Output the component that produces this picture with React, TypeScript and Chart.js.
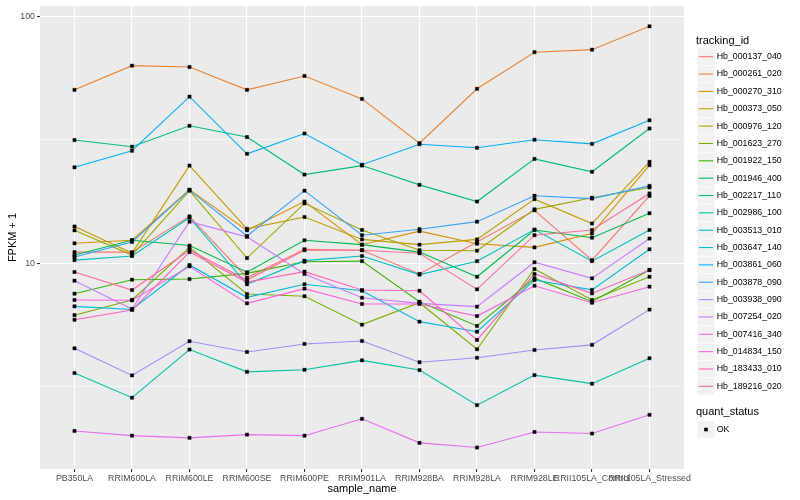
import React, { useEffect, useRef } from 'react';
import { Chart, registerables } from 'chart.js';

Chart.register(...registerables);

const FONT = '"Liberation Sans", Arial, Helvetica, sans-serif';

const categories = [
  'PB350LA', 'RRIM600LA', 'RRIM600LE', 'RRIM600SE', 'RRIM600PE', 'RRIM901LA',
  'RRIM928BA', 'RRIM928LA', 'RRIM928LE', 'RRII105LA_Control', 'RRII105LA_Stressed',
];

const trackingIds = [
  'Hb_000137_040', 'Hb_000261_020', 'Hb_000270_310', 'Hb_000373_050', 'Hb_000976_120',
  'Hb_001623_270', 'Hb_001922_150', 'Hb_001946_400', 'Hb_002217_110', 'Hb_002986_100',
  'Hb_003513_010', 'Hb_003647_140', 'Hb_003861_060', 'Hb_003878_090', 'Hb_003938_090',
  'Hb_007254_020', 'Hb_007416_340', 'Hb_014834_150', 'Hb_183433_010', 'Hb_189216_020',
];

const seriesColors = [
  '#F8766D', '#EA8331', '#D89000', '#C09B00', '#A3A500', '#7CAE00', '#39B600', '#00BB4E',
  '#00BF7D', '#00C1A3', '#00BFC4', '#00BAE0', '#00B0F6', '#35A2FF', '#9590FF', '#C77CFF',
  '#E76BF3', '#FA62DB', '#FF62BC', '#FF6C91',
];

const hb000137_040 = [11.1, 11.1, 15.5, 8.74, 11.4, 11.3, 9.05, 12.2, 16.4, 10.3, 18.75];
const hb000261_020 = [50.5, 63.3, 62.5, 50.5, 57.5, 46.4, 30.7, 51.0, 71.8, 73.5, 91.4];
const hb000270_310 = [12.05, 12.4, 19.9, 13.6, 17.8, 11.9, 13.5, 12.0, 11.6, 13.2, 25.0];
const hb000373_050 = [14.1, 11.0, 24.9, 13.8, 15.4, 12.5, 11.9, 12.5, 18.2, 14.5, 25.8];
const hb000976_120 = [13.6, 10.8, 19.7, 10.5, 17.5, 13.65, 11.3, 11.25, 16.55, 18.45, 20.3];
const hb001623_270 = [6.16, 7.1, 11.6, 7.51, 7.35, 5.64, 6.92, 4.48, 9.48, 7.1, 8.82];
const hb001922_150 = [7.53, 8.58, 8.63, 9.1, 10.15, 10.2, 6.99, 5.57, 8.7, 6.99, 9.4];
const hb001946_400 = [10.8, 12.4, 11.8, 9.2, 12.4, 11.9, 11.1, 8.82, 13.65, 12.7, 15.95];
const hb002217_110 = [31.6, 29.7, 36.1, 32.5, 22.9, 24.9, 20.8, 17.8, 26.5, 23.5, 35.2];
const hb002986_100 = [3.59, 2.85, 4.47, 3.63, 3.7, 4.04, 3.69, 2.66, 3.52, 3.25, 4.12];
const hb003513_010 = [10.3, 10.7, 15.3, 8.22, 10.25, 10.7, 9.0, 10.2, 13.7, 10.2, 13.65];
const hb003647_140 = [6.69, 6.5, 9.84, 7.28, 8.22, 7.74, 5.8, 5.28, 8.55, 7.8, 11.4];
const hb003861_060 = [24.5, 28.6, 47.4, 27.8, 33.6, 25.1, 30.4, 29.4, 31.7, 30.5, 38.0];
const hb003878_090 = [10.6, 12.2, 19.8, 12.9, 19.7, 13.0, 13.75, 14.75, 18.8, 18.3, 20.6];
const hb003938_090 = [4.52, 3.51, 4.83, 4.37, 4.71, 4.84, 3.97, 4.14, 4.45, 4.67, 6.49];
const hb007254_020 = [8.5, 6.53, 14.75, 12.8, 9.05, 7.25, 6.88, 6.67, 10.1, 8.69, 12.6];
const hb007416_340 = [2.09, 2.0, 1.96, 2.02, 2.0, 2.34, 1.87, 1.79, 2.07, 2.04, 2.43];
const hb014834_150 = [7.1, 7.08, 9.72, 6.88, 7.89, 6.84, 6.84, 6.11, 8.11, 6.92, 8.04];
const hb183433_010 = [5.9, 6.47, 11.1, 8.39, 9.25, 7.79, 7.74, 4.89, 9.05, 7.55, 9.39];
const hb189216_020 = [9.22, 7.79, 11.3, 8.55, 11.3, 11.3, 10.98, 7.84, 13.0, 13.65, 19.2];

const seriesValues = [
  hb000137_040, hb000261_020, hb000270_310, hb000373_050, hb000976_120,
  hb001623_270, hb001922_150, hb001946_400, hb002217_110, hb002986_100,
  hb003513_010, hb003647_140, hb003861_060, hb003878_090, hb003938_090,
  hb007254_020, hb007416_340, hb014834_150, hb183433_010, hb189216_020,
];

const yMajorTicks = [10, 100];
const yMinorTicks = [3.1623, 31.623];
const yMin = 1.465;
const yMax = 110.5;

const quantStatus = ['OK'];

const ggPlugin = {
  id: 'ggDecor',
  beforeDraw(chart: any) {
    const { ctx, chartArea: ca } = chart;
    ctx.save();
    ctx.fillStyle = '#FFFFFF';
    ctx.fillRect(0, 0, chart.width, chart.height);
    ctx.fillStyle = '#EBEBEB';
    ctx.fillRect(ca.left, ca.top, ca.right - ca.left, ca.bottom - ca.top);
    ctx.restore();
  },
  afterDraw(chart: any) {
    const { ctx, chartArea: ca } = chart;
    ctx.save();
    ctx.fillStyle = '#000000';
    ctx.textBaseline = 'middle';
    ctx.textAlign = 'center';
    ctx.font = `11px ${FONT}`;
    ctx.fillText('sample_name', (ca.left + ca.right) / 2, 489);
    ctx.save();
    ctx.translate(13, (ca.top + ca.bottom) / 2);
    ctx.rotate(-Math.PI / 2);
    ctx.fillText('FPKM + 1', 0, 0);
    ctx.restore();

    const lx = 696;
    const keyX = 697.3;
    const keyW = 17.3;
    const rowH = 17.35;
    ctx.textAlign = 'left';
    ctx.font = `11px ${FONT}`;
    ctx.fillText('tracking_id', lx, 40.7);
    trackingIds.forEach((id, i) => {
      const cy = 56.7 + i * rowH;
      ctx.fillStyle = '#F2F2F2';
      ctx.fillRect(keyX, cy - rowH / 2 + 0.4, keyW, rowH - 0.8);
      ctx.strokeStyle = seriesColors[i];
      ctx.lineWidth = 1.1;
      ctx.beginPath();
      ctx.moveTo(keyX + 1.5, cy);
      ctx.lineTo(keyX + keyW - 1.5, cy);
      ctx.stroke();
      ctx.fillStyle = '#000000';
      ctx.font = `8.8px ${FONT}`;
      ctx.fillText(id, 716.7, cy);
    });

    ctx.font = `11px ${FONT}`;
    ctx.fillStyle = '#000000';
    ctx.fillText('quant_status', lx, 412);
    quantStatus.forEach((q, i) => {
      const cy = 429.5 + i * rowH;
      ctx.fillStyle = '#F2F2F2';
      ctx.fillRect(keyX, cy - rowH / 2 + 0.4, keyW, rowH - 0.8);
      ctx.fillStyle = '#000000';
      ctx.fillRect(keyX + keyW / 2 - 1.8, cy - 1.8, 3.6, 3.6);
      ctx.font = `8.8px ${FONT}`;
      ctx.fillText(q, 716.7, cy);
    });
    ctx.restore();
  },
};

export default function App() {
  const canvasRef = useRef<HTMLCanvasElement | null>(null);

  useEffect(() => {
    document.body.style.margin = '0';
    const canvas = canvasRef.current;
    if (!canvas) return;

    const lineDatasets = seriesValues.map((vals, i) => ({
      label: trackingIds[i],
      data: vals.map((v, j) => ({ x: j, y: v })),
      borderColor: seriesColors[i],
      backgroundColor: seriesColors[i],
      borderWidth: 1.1,
      pointRadius: 0,
      pointHoverRadius: 0,
      fill: false,
      tension: 0,
      order: 100 - i,
    }));

    const pointData: { x: number; y: number }[] = [];
    seriesValues.forEach((vals) => vals.forEach((v, j) => pointData.push({ x: j, y: v })));

    const pointsDataset = {
      label: 'quant_status OK',
      data: pointData,
      showLine: false,
      borderColor: '#000000',
      backgroundColor: '#000000',
      pointStyle: 'rect',
      pointRadius: 2.3,
      pointBorderWidth: 0.4,
      pointHoverRadius: 2.3,
      order: 0,
    };

    const isMajor = (v: number) => yMajorTicks.some((m) => Math.abs(m - v) < 1e-6);

    const chart = new Chart(canvas, {
      type: 'line',
      data: { datasets: [...lineDatasets, pointsDataset] as any },
      plugins: [ggPlugin],
      options: {
        animation: false,
        responsive: false,
        devicePixelRatio: 1,
        events: [],
        layout: { padding: { left: 0, right: 116, top: 6, bottom: 0 } },
        plugins: { legend: { display: false }, tooltip: { enabled: false }, title: { display: false } },
        scales: {
          x: {
            type: 'linear',
            min: -0.6,
            max: categories.length - 1 + 0.6,
            bounds: 'data',
            afterBuildTicks: (s: any) => {
              s.ticks = categories.map((_, i) => ({ value: i }));
            },
            afterFit: (s: any) => {
              s.height = 31;
              s.paddingLeft = 0;
              s.paddingRight = 0;
            },
            border: { display: false },
            grid: {
              color: '#FFFFFF',
              lineWidth: 1.07,
              tickLength: 3,
              tickColor: '#333333',
              tickWidth: 1.07,
            },
            ticks: {
              autoSkip: false,
              maxRotation: 0,
              minRotation: 0,
              padding: 1,
              color: '#4D4D4D',
              font: { family: FONT, size: 8.8 },
              callback: (v: any) => categories[Math.round(Number(v))] ?? '',
            },
          },
          y: {
            type: 'logarithmic',
            min: yMin,
            max: yMax,
            bounds: 'data',
            afterBuildTicks: (s: any) => {
              s.ticks = [...yMinorTicks, ...yMajorTicks].sort((a, b) => a - b).map((v) => ({ value: v }));
            },
            afterFit: (s: any) => {
              s.width = 40;
              s.paddingTop = 0;
              s.paddingBottom = 0;
            },
            border: { display: false },
            grid: {
              color: '#FFFFFF',
              lineWidth: (c: any) => (isMajor(c.tick?.value) ? 1.07 : 0.53),
              tickLength: 3,
              tickColor: (c: any) => (isMajor(c.tick?.value) ? '#333333' : 'rgba(0,0,0,0)'),
              tickWidth: 1.07,
            },
            ticks: {
              padding: 2,
              color: '#4D4D4D',
              font: { family: FONT, size: 8.8 },
              callback: (v: any) => (isMajor(Number(v)) ? String(Number(v)) : ''),
            },
          },
        },
      } as any,
    });

    return () => {
      chart.destroy();
    };
  }, []);

  return (
    <div style={{ position: 'absolute', left: 0, top: 0, width: 800, height: 500 }}>
      <canvas ref={canvasRef} width={800} height={500} style={{ width: 800, height: 500, display: 'block' }} />
    </div>
  );
}
